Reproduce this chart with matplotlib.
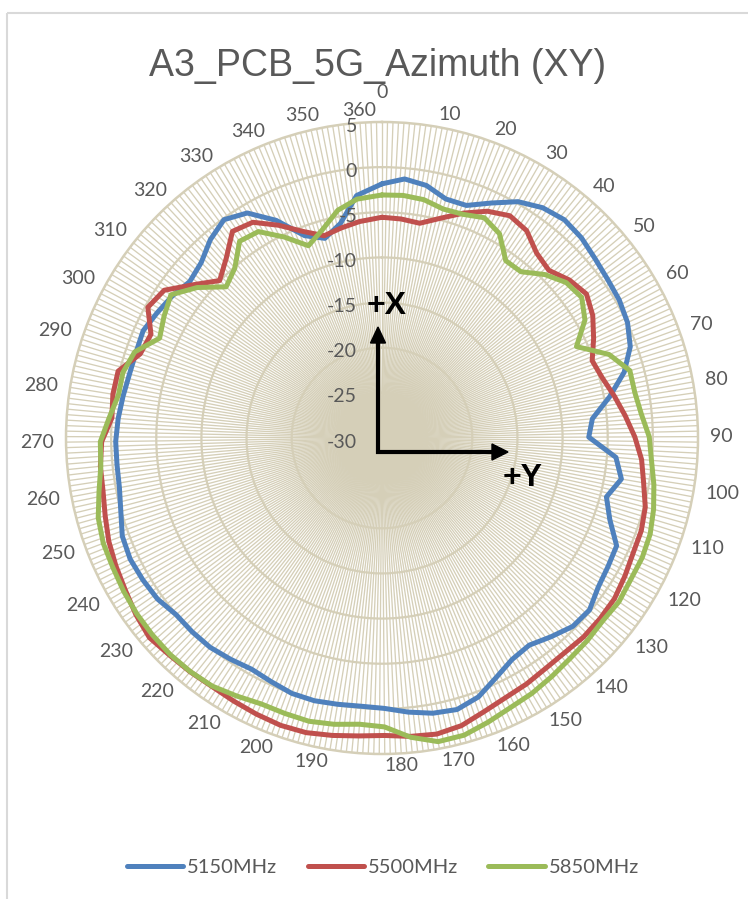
import numpy as np
import matplotlib
matplotlib.use("Agg")
import matplotlib.pyplot as plt
from matplotlib.patches import Polygon, Rectangle
from matplotlib.transforms import offset_copy

# ---------------------------------------------------------------------------
# Data (gain in dB, read every 5 degrees of azimuth)
# ---------------------------------------------------------------------------
TITLE = "A3_PCB_5G_Azimuth (XY)"
N_CAT = 361                      # categories 0..360, one spoke each
ANGLE_DEG = list(range(0, 360, 5))
SERIES = ["5150MHz", "5500MHz", "5850MHz"]

GAIN_5150 = [
    -1.85, -1.2, -1.6, -2.6, -2.6, -1.3, 0.2, 1.1, 1.5, 1.3, 0.85, 0.55,
    0.4, 0.05, -0.7, -2.2, -4.4, -6.6, -7.1, -4.0, -3.1, -4.3, -3.2, -1.4,
    -1.2, -0.9, -0.15, -0.3, -1.1, -1.85, -1.55, -0.6, 0.6, 1.2, 1.0, 0.5,
    -0.05, -0.2, -0.1, 0.05, 0.0, -0.35, -0.6, -0.3, 0.0, 0.05, 0.05, 0.6,
    0.8, 0.95, 0.75, 0.05, -0.4, -0.5, -0.5, -0.7, -0.95, -1.15, -1.15, -1.0,
    -1.5, -1.95, -2.55, -2.1, -0.95, -0.15, -0.95, -3.2, -6.0, -7.0, -5.8, -3.0,
]
GAIN_5500 = [
    -5.55, -5.65, -5.85, -4.8, -3.5, -2.3, -1.6, -2.0, -3.3, -3.8, -2.85, -2.3,
    -3.0, -4.1, -5.2, -4.7, -3.85, -2.95, -2.0, -1.15, -0.6, 0.15, 0.5, 0.6,
    0.95, 1.3, 1.36, 1.37, 1.22, 1.3, 1.6, 1.85, 2.35, 3.05, 3.35, 3.2,
    2.95, 3.1, 3.4, 3.7, 3.75, 3.6, 3.45, 3.35, 3.5, 3.65, 3.95, 3.55,
    3.05, 2.7, 2.35, 1.85, 1.45, 1.35, 1.05, 0.0, 0.2, 0.15, -1.65, -1.95,
    -0.3, -0.85, -3.1, -4.95, -3.65, -1.75, -2.15, -3.8, -5.5, -6.7, -6.3, -5.9,
]
GAIN_5850 = [
    -3.08, -3.03, -3.2, -3.75, -3.65, -3.1, -3.9, -6.05, -6.0, -4.45, -3.3, -2.95,
    -4.0, -6.2, -3.2, -1.55, -1.55, -1.15, -0.4, -0.05, 0.55, 1.1, 1.55, 1.72,
    1.7, 1.9, 1.75, 1.95, 2.1, 2.43, 2.8, 3.08, 3.6, 4.15, 4.2, 3.3,
    2.0, 1.8, 2.15, 2.4, 2.35, 2.35, 2.8, 3.3, 3.47, 3.55, 3.5, 3.42,
    3.27, 3.08, 3.0, 2.65, 1.9, 1.3, 1.2, 0.3, -0.42, -0.4, -1.0, -3.0,
    -2.35, -1.75, -3.6, -5.95, -5.1, -3.1, -3.35, -5.25, -7.2, -6.0, -4.3, -3.4,
]

R_TICKS = [-30, -25, -20, -15, -10, -5, 0, 5]
CAT_LABELS = list(range(0, 361, 10))

# ---------------------------------------------------------------------------
# Style
# ---------------------------------------------------------------------------
W, H = 748, 899
CX, CY, R = 382, 438, 316        # plot circle, figure pixels from top-left
GRID = "#D5CFB8"
TEXT = "#595959"
COLORS = ["#4F81BD", "#C0504D", "#9BBB59"]
LABEL_FONT = ["Lato", "DejaVu Sans"]

fig = plt.figure(figsize=(W / 100, H / 100), dpi=100)
fig.patch.set_facecolor("white")

ax = fig.add_axes([(CX - R) / W, 1 - (CY + R) / H, 2 * R / W, 2 * R / H],
                  projection="polar")
ax.set_theta_zero_location("N")
ax.set_theta_direction(-1)
ax.set_ylim(R_TICKS[0], R_TICKS[-1])
ax.set_facecolor("white")

cat_theta = np.deg2rad(np.arange(N_CAT) * 360 / N_CAT)
ax.set_xticks(cat_theta)
ax.set_xticklabels([])
ax.set_yticks(R_TICKS[1:-1])
ax.set_yticklabels([])
ax.tick_params(length=0)
ax.xaxis.grid(True, color=GRID, lw=0.95)
ax.yaxis.grid(True, color=GRID, lw=1.6)
ax.spines["polar"].set_color(GRID)
ax.spines["polar"].set_linewidth(1.8)

# ---- Series -----------------------------------------------------------
theta = np.deg2rad(np.array(ANGLE_DEG) * 360 / N_CAT)
handles = []
for name, gain, color in zip(SERIES, [GAIN_5150, GAIN_5500, GAIN_5850], COLORS):
    t = np.append(theta, theta[0])
    g = np.append(gain, gain[0])
    ln, = ax.plot(t, g, color=color, lw=3.6, solid_joinstyle="round",
                  solid_capstyle="round", label=name, zorder=5)
    handles.append(ln)

# ---- Radial value labels ----------------------------------------------
for v in R_TICKS:
    tr = offset_copy(ax.transData, fig=fig, x=-25, y=-4, units="dots")
    ax.text(0, v, str(v), transform=tr, ha="right", va="center",
            fontsize=14, color=TEXT, family=LABEL_FONT, zorder=6)

# ---- Category labels --------------------------------------------------
for c in CAT_LABELS:
    th = np.deg2rad(c * 360 / N_CAT)
    s, co = np.sin(th), np.cos(th)
    ha = "center" if c == 0 else ("left" if s > 0 else "right")
    dy = 18 if c == 0 else 0
    tr = offset_copy(ax.transData, fig=fig, x=12 * s, y=12 * co + dy,
                     units="dots")
    ax.text(th, R_TICKS[-1], str(c), transform=tr, ha=ha, va="center",
            fontsize=14, color=TEXT, family=LABEL_FONT)

# ---- Title ------------------------------------------------------------
fig.text(378 / W, 1 - 76 / H, TITLE, ha="center", va="baseline",
         fontsize=27, color=TEXT, family=["Liberation Sans", "DejaVu Sans"])

# ---- Legend -----------------------------------------------------------
leg = fig.legend(handles=handles, labels=SERIES, loc="center",
                 bbox_to_anchor=(383 / W, 1 - 867 / H), ncol=3,
                 frameon=False, handlelength=2.8, handletextpad=0.2,
                 columnspacing=1.5,
                 prop={"family": LABEL_FONT, "size": 14.5})
for t in leg.get_texts():
    t.set_color(TEXT)

# ---- Overlay: chart border and +X / +Y axes arrows ---------------------
ov = fig.add_axes([0, 0, 1, 1])
ov.set_xlim(0, W)
ov.set_ylim(H, 0)
ov.axis("off")
ov.patch.set_alpha(0)

ov.add_patch(Rectangle((7, 13), W + 20, H + 20, fill=False,
                       ec="#D9D9D9", lw=1.5))

ov.plot([378, 378, 496], [338, 452, 452], color="black", lw=3.0,
        solid_joinstyle="miter", solid_capstyle="butt")
ov.add_patch(Polygon([[378, 327], [370.5, 343], [385.5, 343]],
                     closed=True, color="black"))
ov.add_patch(Polygon([[508, 452], [492, 444], [492, 460]],
                     closed=True, color="black"))
ov.text(387, 306, "+X", ha="center", va="center", fontsize=23,
        fontweight="bold", color="black", family=["Liberation Sans", "DejaVu Sans"])
ov.text(523, 478, "+Y", ha="center", va="center", fontsize=23,
        fontweight="bold", color="black", family=["Liberation Sans", "DejaVu Sans"])

fig.savefig("out.png", dpi=100)
